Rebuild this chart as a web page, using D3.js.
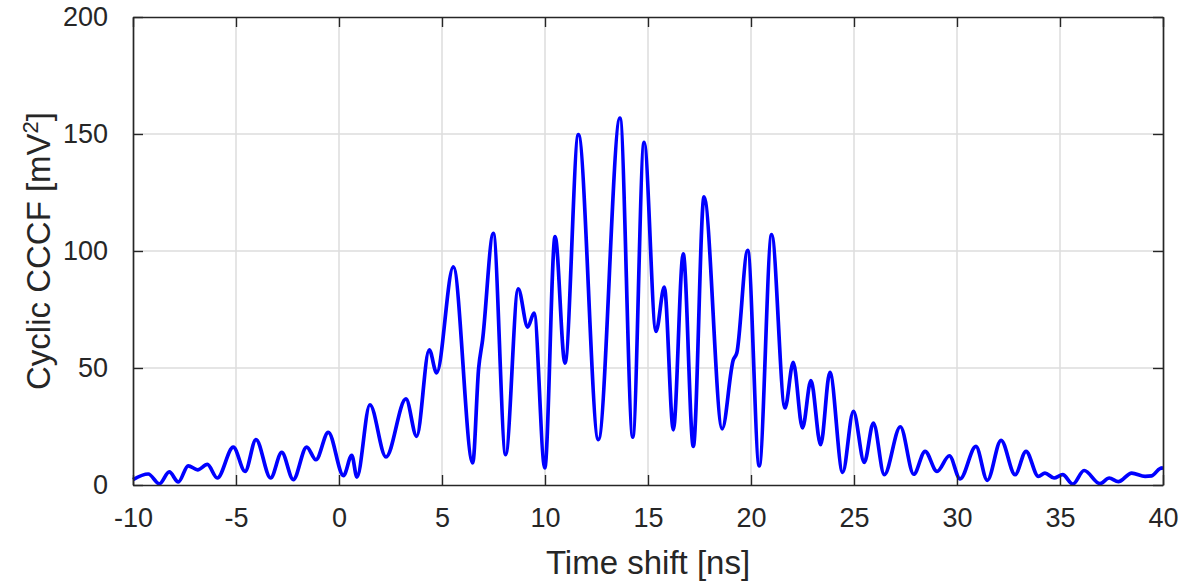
<!DOCTYPE html>
<html>
<head>
<meta charset="utf-8">
<script src="https://cdn.jsdelivr.net/npm/d3@7"></script>
<style>
  html, body { margin: 0; padding: 0; background: #fff; }
  svg { display: block; font-family: "Liberation Sans", Arial, sans-serif; }
</style>
</head>
<body>
<svg id="chart" width="1181" height="586"></svg>
<script>
// Time shift (ns) of the local extrema / shape points of the cyclic CCCF
const timeShift = [
  -10.0, -9.26, -8.72, -8.24, -7.80, -7.32, -6.86, -6.39, -5.91, -5.13,
  -4.56, -4.03, -3.32, -2.78, -2.22, -1.57, -1.12, -0.52, 0.22, 0.62,
  0.87, 1.50, 2.28, 3.25, 3.77, 4.38, 4.74, 5.55, 6.49, 6.78,
  6.97, 7.49, 8.09, 8.70, 9.16, 9.47, 9.99, 10.49, 10.97, 11.62,
  12.59, 13.64, 14.26, 14.81, 15.39, 15.79, 16.23, 16.71, 17.20, 17.72,
  18.60, 19.14, 19.31, 19.84, 20.40, 21.00, 21.65, 22.05, 22.50, 22.91,
  23.38, 23.83, 24.45, 24.97, 25.50, 25.94, 26.47, 27.25, 27.90, 28.45,
  29.03, 29.63, 30.15, 30.92, 31.47, 32.14, 32.82, 33.35, 33.95, 34.27,
  34.71, 35.13, 35.62, 36.17, 36.94, 37.39, 37.83, 38.48, 39.13, 39.45,
  39.85, 40.0
];

// Cyclic CCCF (mV^2) at those time shifts
const cccf = [
  2.3, 4.7, 0.5, 5.6, 1.3, 8.2, 6.5, 8.8, 3.0, 16.2,
  5.8, 19.4, 3.0, 13.9, 2.3, 16.2, 10.8, 22.5, 4.0, 12.7,
  3.4, 34.3, 12.0, 36.8, 20.8, 57.8, 47.9, 93.2, 9.4, 50.0,
  62.0, 107.5, 13.0, 83.8, 67.5, 73.5, 7.3, 106.2, 52.1, 149.7,
  19.4, 156.8, 20.5, 146.4, 65.6, 84.6, 23.6, 98.8, 16.5, 123.1,
  24.0, 53.5, 56.4, 100.3, 8.2, 107.0, 32.9, 52.4, 24.4, 44.6,
  17.2, 48.1, 5.4, 31.5, 9.7, 26.5, 4.4, 24.9, 4.6, 14.4,
  5.8, 12.5, 2.6, 16.5, 2.0, 19.1, 4.4, 14.4, 3.7, 5.1,
  3.0, 4.4, 0.4, 6.2, 0.6, 3.0, 1.4, 5.1, 3.7, 3.9,
  7.0, 7.3
];

const xTicks = [-10, -5, 0, 5, 10, 15, 20, 25, 30, 35, 40];
const yTicks = [0, 50, 100, 150, 200];

const W = 1181, H = 586;
const margin = { left: 133, right: 18, top: 17, bottom: 101 };
const iw = W - margin.left - margin.right;
const ih = H - margin.top - margin.bottom;

const svg = d3.select("#chart");
const g = svg.append("g").attr("transform", `translate(${margin.left},${margin.top})`);

const x = d3.scaleLinear().domain([-10, 40]).range([0, iw]);
const y = d3.scaleLinear().domain([0, 200]).range([ih, 0]);

const axisColor = "#262626";
const gridColor = "#dcdcdc";

// grid
g.append("g").selectAll("line").data(xTicks.slice(1, -1)).join("line")
  .attr("x1", d => x(d)).attr("x2", d => x(d))
  .attr("y1", 0).attr("y2", ih)
  .attr("stroke", gridColor).attr("stroke-width", 1.5);
g.append("g").selectAll("line").data(yTicks.slice(1, -1)).join("line")
  .attr("y1", d => y(d)).attr("y2", d => y(d))
  .attr("x1", 0).attr("x2", iw)
  .attr("stroke", gridColor).attr("stroke-width", 1.5);

// curve
const line = d3.line()
  .x((d, i) => x(timeShift[i]))
  .y(d => y(d))
  .curve(d3.curveMonotoneX);

g.append("path")
  .datum(cccf)
  .attr("d", line)
  .attr("fill", "none")
  .attr("stroke", "#0000ff")
  .attr("stroke-width", 3.7)
  .attr("stroke-linejoin", "round");

// axes (ticks inward, mirrored on top/right)
const tickLen = 10;
const styleAxis = sel => {
  sel.select(".domain").attr("stroke", axisColor).attr("stroke-width", 1.7);
  sel.selectAll(".tick line").attr("stroke", axisColor).attr("stroke-width", 1.4);
  sel.selectAll(".tick text").attr("fill", "#262626").attr("font-size", 27)
    .attr("font-family", "'Liberation Sans', Arial, sans-serif");
};

const xAxis = g.append("g").attr("transform", `translate(0,${ih})`)
  .call(d3.axisBottom(x).tickValues(xTicks).tickSizeInner(-tickLen).tickSizeOuter(0).tickPadding(23).tickFormat(d3.format("d")))
  .call(styleAxis);
xAxis.selectAll(".tick text").text(d => String(d).replace("\u2212", "-"));

g.append("g")
  .call(d3.axisTop(x).tickValues(xTicks).tickSizeInner(-tickLen).tickSizeOuter(0).tickFormat(""))
  .call(styleAxis);

g.append("g")
  .call(d3.axisLeft(y).tickValues(yTicks).tickSizeInner(-tickLen).tickSizeOuter(0).tickPadding(25))
  .call(styleAxis);

g.append("g").attr("transform", `translate(${iw},0)`)
  .call(d3.axisRight(y).tickValues(yTicks).tickSizeInner(-tickLen).tickSizeOuter(0).tickFormat(""))
  .call(styleAxis);

// axis labels
svg.append("text")
  .attr("x", margin.left + iw / 2)
  .attr("y", 574)
  .attr("text-anchor", "middle")
  .attr("font-size", 33)
  .attr("fill", "#262626")
  .text("Time shift [ns]");

const yl = svg.append("text")
  .attr("transform", `translate(50,${margin.top + ih / 2}) rotate(-90)`)
  .attr("text-anchor", "middle")
  .attr("font-size", 33)
  .attr("fill", "#262626");
yl.append("tspan").text("Cyclic CCCF [mV");
yl.append("tspan").attr("baseline-shift", "super").attr("font-size", 22).text("2");
yl.append("tspan").text("]");
</script>
</body>
</html>
